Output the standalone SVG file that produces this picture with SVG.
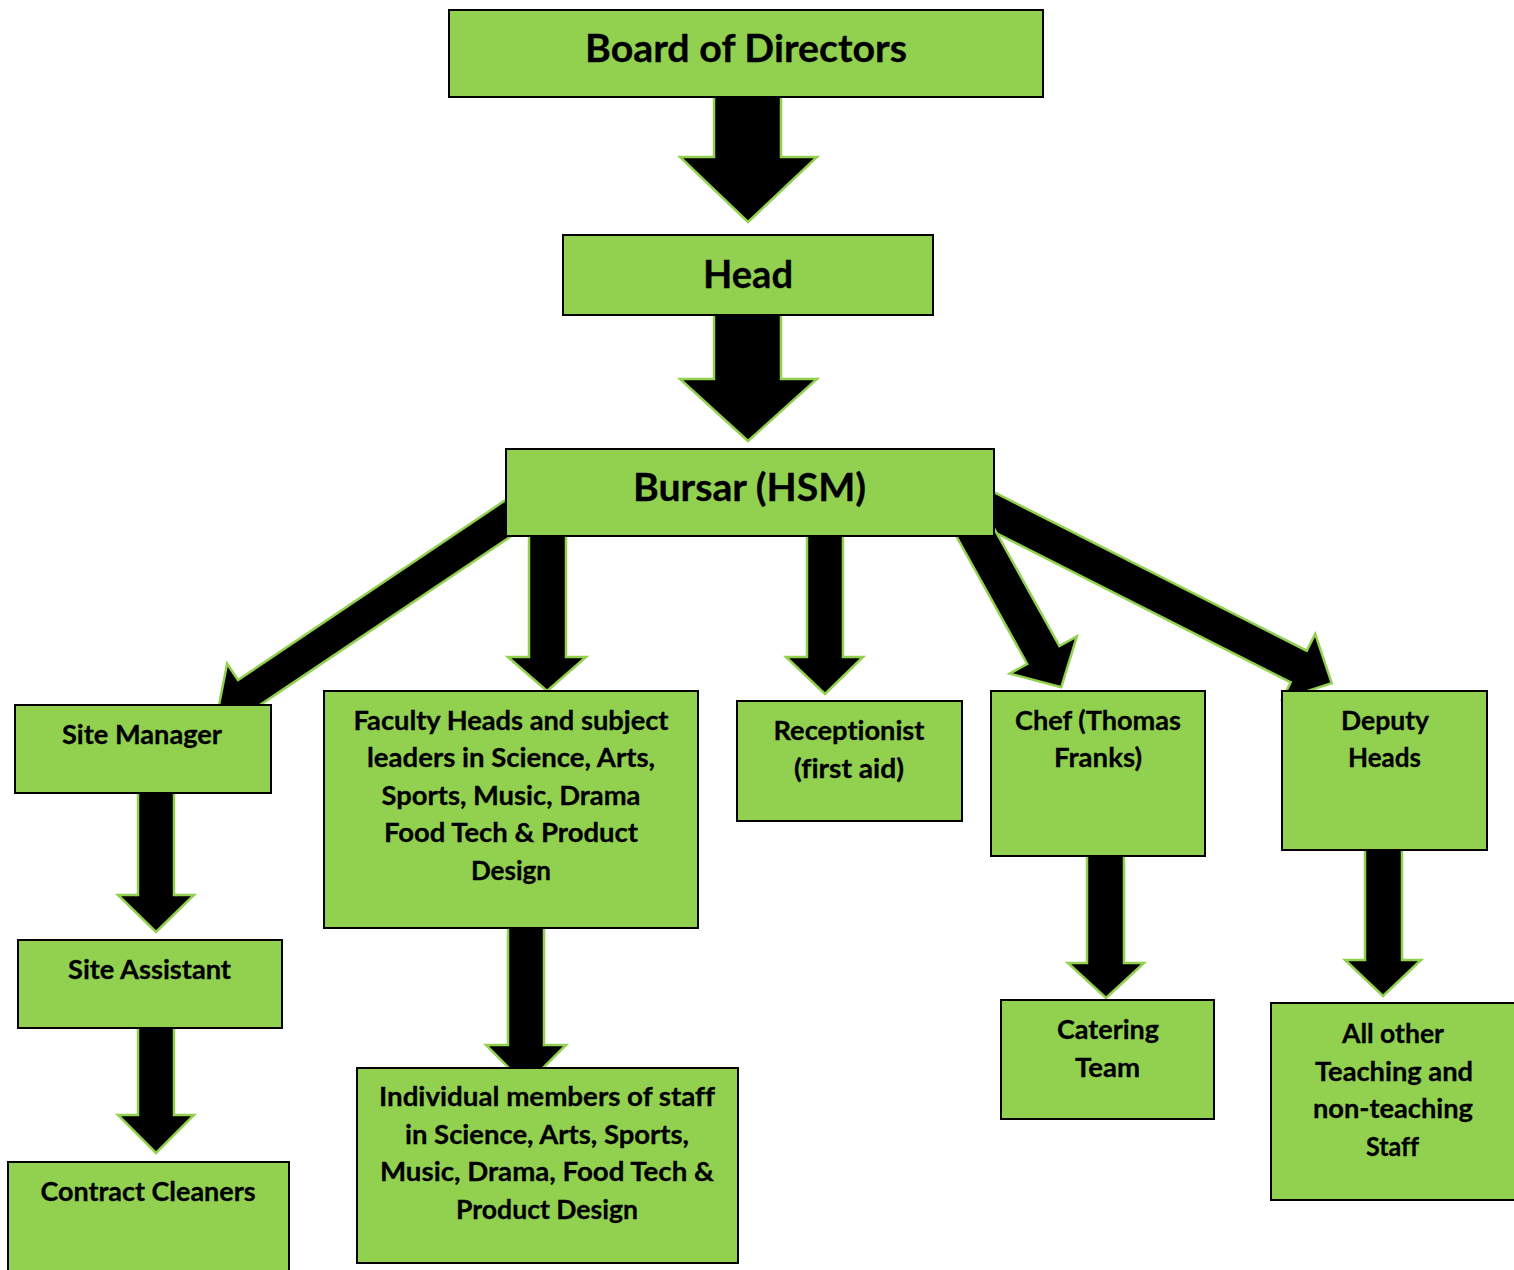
<svg xmlns="http://www.w3.org/2000/svg" width="1514" height="1270" viewBox="0 0 1514 1270">
<style>
.box{fill:#92D050;stroke:#000;stroke-width:2}
.arr{fill:#000;stroke:#92D050;stroke-width:2.5;stroke-linejoin:miter}
text{font-family:Lato,"Liberation Sans",sans-serif;font-weight:bold;fill:#000;text-anchor:middle;font-variant-ligatures:none;stroke:#000;stroke-width:0.3}
.big{font-size:38px}
.sm{font-size:26px}
</style>
<rect width="1514" height="1270" fill="#fff"/>
<g id="connectors">
<polygon class="arr" points="714,92 714,157 680,157 748,222 817,157 781,157 781,92"/>
<polygon class="arr" points="714,310 714,379 680,379 748,441 817,379 781,379 781,310"/>
<polygon class="arr" points="530.2,523.3 256.4,707.4 267.3,723.6 217.3,713.8 227.1,663.8 238,680 511.8,495.9"/>
<polygon class="arr" points="529,530 529,657 508,657 547,691 586,657 566,657 566,530"/>
<polygon class="arr" points="807,530 807,657 786,657 825,694 863,657 843,657 843,530"/>
<polygon class="arr" points="969.6,519.6 1290.7,682.3 1282.2,699.1 1331.7,683.2 1315.2,633.9 1306.7,650.7 985.6,488"/>
<polygon class="arr" points="981.8,506.3 1059.4,646.1 1076.9,636.4 1061.2,687.3 1009.7,673.6 1027.2,663.9 949.6,524.1"/>
<polygon class="arr" points="138,788 138,895 118,895 156,932 194,895 174,895 174,788"/>
<polygon class="arr" points="138,1023 138,1115 118,1115 156,1153 194,1115 174,1115 174,1023"/>
<polygon class="arr" points="508,923 508,1045 486,1045 526,1085 566,1045 544,1045 544,923"/>
<polygon class="arr" points="1087,851 1087,963 1068,963 1106,998 1144,963 1124,963 1124,851"/>
<polygon class="arr" points="1365,845 1365,960 1345,960 1383,996 1421,960 1402,960 1402,845"/>
</g>
<g id="board">
<rect class="box" x="449" y="10" width="594" height="87"/>
<text class="big" x="746" y="62" textLength="322" lengthAdjust="spacingAndGlyphs">Board of Directors</text>
</g>
<g id="head">
<rect class="box" x="563" y="235" width="370" height="80"/>
<text class="big" x="748" y="288" textLength="90" lengthAdjust="spacingAndGlyphs">Head</text>
</g>
<g id="bursar">
<rect class="box" x="506" y="449" width="488" height="87"/>
<text class="big" x="749.5" y="501" textLength="233" lengthAdjust="spacingAndGlyphs">Bursar (HSM)</text>
</g>
<g id="site-manager">
<rect class="box" x="15" y="705" width="256" height="88"/>
<text class="sm" x="142" y="744" textLength="160" lengthAdjust="spacingAndGlyphs">Site Manager</text>
</g>
<g id="faculty">
<rect class="box" x="324" y="691" width="374" height="237"/>
<text class="sm" x="511" y="730" textLength="315" lengthAdjust="spacingAndGlyphs">Faculty Heads and subject</text>
<text class="sm" x="511" y="767" textLength="288" lengthAdjust="spacingAndGlyphs">leaders in Science, Arts,</text>
<text class="sm" x="511" y="805" textLength="259" lengthAdjust="spacingAndGlyphs">Sports, Music, Drama</text>
<text class="sm" x="511" y="842" textLength="254" lengthAdjust="spacingAndGlyphs">Food Tech &amp; Product</text>
<text class="sm" x="511" y="880" textLength="80" lengthAdjust="spacingAndGlyphs">Design</text>
</g>
<g id="receptionist">
<rect class="box" x="737" y="701" width="225" height="120"/>
<text class="sm" x="849" y="740" textLength="151" lengthAdjust="spacingAndGlyphs">Receptionist</text>
<text class="sm" x="849" y="778" textLength="110" lengthAdjust="spacingAndGlyphs">(first aid)</text>
</g>
<g id="chef">
<rect class="box" x="991" y="691" width="214" height="165"/>
<text class="sm" x="1098" y="730" textLength="166" lengthAdjust="spacingAndGlyphs">Chef (Thomas</text>
<text class="sm" x="1098" y="767" textLength="88" lengthAdjust="spacingAndGlyphs">Franks)</text>
</g>
<g id="deputy">
<rect class="box" x="1282" y="691" width="205" height="159"/>
<text class="sm" x="1385" y="730" textLength="88" lengthAdjust="spacingAndGlyphs">Deputy</text>
<text class="sm" x="1384.5" y="767" textLength="73" lengthAdjust="spacingAndGlyphs">Heads</text>
</g>
<g id="site-assistant">
<rect class="box" x="18" y="940" width="264" height="88"/>
<text class="sm" x="149.5" y="979" textLength="163" lengthAdjust="spacingAndGlyphs">Site Assistant</text>
</g>
<g id="individual">
<rect class="box" x="357" y="1068" width="381" height="195"/>
<text class="sm" x="547" y="1106" textLength="336" lengthAdjust="spacingAndGlyphs">Individual members of staff</text>
<text class="sm" x="547" y="1144" textLength="284" lengthAdjust="spacingAndGlyphs">in Science, Arts, Sports,</text>
<text class="sm" x="547" y="1181" textLength="334" lengthAdjust="spacingAndGlyphs">Music, Drama, Food Tech &amp;</text>
<text class="sm" x="547" y="1219" textLength="182" lengthAdjust="spacingAndGlyphs">Product Design</text>
</g>
<g id="catering">
<rect class="box" x="1001" y="1000" width="213" height="119"/>
<text class="sm" x="1108" y="1039" textLength="102" lengthAdjust="spacingAndGlyphs">Catering</text>
<text class="sm" x="1107.5" y="1077" textLength="65" lengthAdjust="spacingAndGlyphs">Team</text>
</g>
<g id="all-other">
<rect class="box" x="1271" y="1003" width="250" height="197"/>
<text class="sm" x="1393" y="1043" textLength="102" lengthAdjust="spacingAndGlyphs">All other</text>
<text class="sm" x="1394" y="1081" textLength="158" lengthAdjust="spacingAndGlyphs">Teaching and</text>
<text class="sm" x="1393" y="1118" textLength="160" lengthAdjust="spacingAndGlyphs">non-teaching</text>
<text class="sm" x="1392.5" y="1156" textLength="53" lengthAdjust="spacingAndGlyphs">Staff</text>
</g>
<g id="contract">
<rect class="box" x="8" y="1162" width="281" height="115"/>
<text class="sm" x="148" y="1201" textLength="215" lengthAdjust="spacingAndGlyphs">Contract Cleaners</text>
</g>
</svg>
